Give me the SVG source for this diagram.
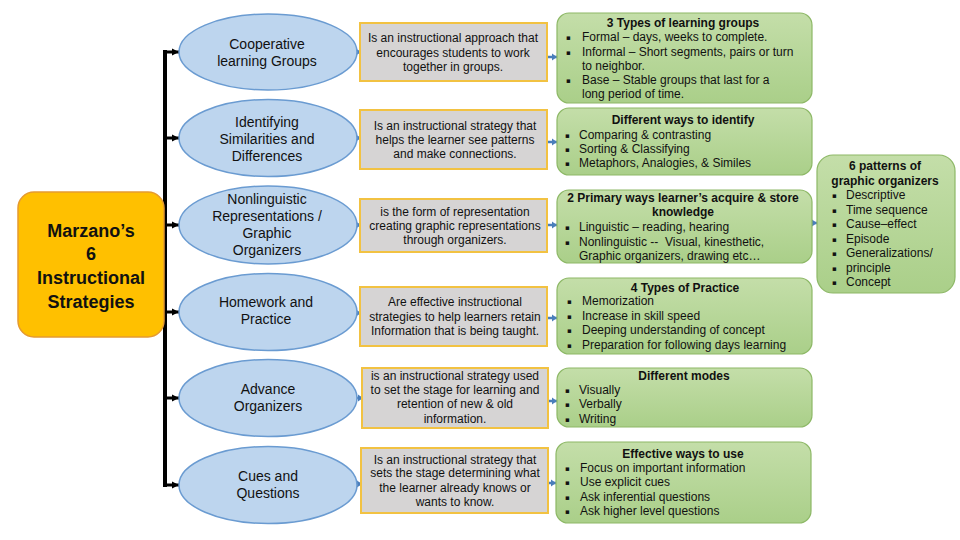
<svg xmlns="http://www.w3.org/2000/svg" width="960" height="540" viewBox="0 0 960 540">
<defs>
<style>
.t{font-family:"Liberation Sans",Arial,sans-serif;fill:#111;}
.ov{fill:#BDD5EE;stroke:#6A9BD1;stroke-width:1.5;}
.gb{fill:#D6D4D4;stroke:#F2C242;stroke-width:2;}
.gr{fill:url(#gg);stroke:#8DB866;stroke-width:1.2;}
.ot{font-size:14px;text-anchor:middle;}
.bt{font-size:12px;text-anchor:middle;}
.gt{font-size:12px;}
.hd{font-size:12px;font-weight:bold;text-anchor:middle;}
.bl{font-family:"DejaVu Sans",sans-serif;font-size:7px;fill:#111;}
.blk{stroke:#000;fill:none;}
.blu{stroke:#4A7EBB;stroke-width:2.5;fill:none;}
</style>
<linearGradient id="gg" x1="0" y1="0" x2="0" y2="1">
<stop offset="0" stop-color="#C4DEA9"/>
<stop offset="1" stop-color="#AACF89"/>
</linearGradient>
<marker id="ah" markerWidth="8" markerHeight="8" refX="7" refY="4" orient="auto" markerUnits="userSpaceOnUse">
<path d="M0,0.5 L7,4 L0,7.5 z" fill="#000"/>
</marker>
<marker id="bh" markerWidth="6" markerHeight="8" refX="5" refY="4" orient="auto" markerUnits="userSpaceOnUse">
<path d="M0,0.5 L5,4 L0,7.5 z" fill="#4A7EBB"/>
</marker>
</defs>
<rect width="960" height="540" fill="#fff"/>

<g id="connectors">
<path class="blk" d="M165 50 V487" stroke-width="4"/>
<path class="blk" d="M165 52 H179" stroke-width="3" marker-end="url(#ah)"/>
<path class="blk" d="M165 138 H179" stroke-width="3" marker-end="url(#ah)"/>
<path class="blk" d="M165 225 H179" stroke-width="3" marker-end="url(#ah)"/>
<path class="blk" d="M165 312 H179" stroke-width="3" marker-end="url(#ah)"/>
<path class="blk" d="M165 398 H179" stroke-width="3" marker-end="url(#ah)"/>
<path class="blk" d="M165 485 H179" stroke-width="3" marker-end="url(#ah)"/>
<path class="blu" d="M352 52 H361" marker-end="url(#bh)"/>
<path class="blu" d="M352 138 H361" marker-end="url(#bh)"/>
<path class="blu" d="M352 225 H361" marker-end="url(#bh)"/>
<path class="blu" d="M352 313 H361" marker-end="url(#bh)"/>
<path class="blu" d="M352 398 H363" marker-end="url(#bh)"/>
<path class="blu" d="M352 484 H362" marker-end="url(#bh)"/>
<path class="blu" d="M546 57 H557" marker-end="url(#bh)"/>
<path class="blu" d="M546 142 H557" marker-end="url(#bh)"/>
<path class="blu" d="M546 225 H557" marker-end="url(#bh)"/>
<path class="blu" d="M546 318 H557" marker-end="url(#bh)"/>
<path class="blu" d="M546 401 H557" marker-end="url(#bh)"/>
<path class="blu" d="M546 483 H556" marker-end="url(#bh)"/>
<path class="blu" d="M810 223 H817" marker-end="url(#bh)"/>
</g>

<g id="marzano">
<rect x="18" y="192" width="146" height="145" rx="16" fill="#FFC000" stroke="#E59A30" stroke-width="1.5"/>
<text class="t" font-size="18" font-weight="bold" text-anchor="middle"><tspan x="91" y="237">Marzano’s</tspan><tspan x="91" y="260">6</tspan><tspan x="91" y="284">Instructional</tspan><tspan x="91" y="308">Strategies</tspan></text>
</g>

<g id="oval1"><ellipse class="ov" cx="268" cy="52" rx="89" ry="38"/>
<text class="t ot"><tspan x="267" y="49">Cooperative</tspan><tspan x="267" y="66">learning Groups</tspan></text></g>
<g id="oval2"><ellipse class="ov" cx="268" cy="138" rx="89" ry="38.5"/>
<text class="t ot"><tspan x="267" y="127">Identifying</tspan><tspan x="267" y="144">Similarities and</tspan><tspan x="267" y="161">Differences</tspan></text></g>
<g id="oval3"><ellipse class="ov" cx="268" cy="225" rx="89" ry="39"/>
<text class="t ot"><tspan x="267" y="204">Nonlinguistic</tspan><tspan x="267" y="221">Representations /</tspan><tspan x="267" y="238">Graphic</tspan><tspan x="267" y="255">Organizers</tspan></text></g>
<g id="oval4"><ellipse class="ov" cx="268" cy="312" rx="89" ry="38.5"/>
<text class="t ot"><tspan x="266" y="307">Homework and</tspan><tspan x="266" y="324">Practice</tspan></text></g>
<g id="oval5"><ellipse class="ov" cx="268" cy="398" rx="89" ry="38.5"/>
<text class="t ot"><tspan x="268" y="394">Advance</tspan><tspan x="268" y="411">Organizers</tspan></text></g>
<g id="oval6"><ellipse class="ov" cx="268" cy="485" rx="89" ry="38.5"/>
<text class="t ot"><tspan x="268" y="481">Cues and</tspan><tspan x="268" y="498">Questions</tspan></text></g>

<g id="def1"><rect class="gb" x="360" y="23" width="187" height="58"/>
<text class="t bt"><tspan x="453" y="42">Is an instructional approach that</tspan><tspan x="453" y="57">encourages students to work</tspan><tspan x="453" y="71">together in groups.</tspan></text></g>
<g id="def2"><rect class="gb" x="360" y="110" width="187" height="59"/>
<text class="t bt"><tspan x="455" y="130">Is an instructional strategy that</tspan><tspan x="455" y="144">helps the learner see patterns</tspan><tspan x="455" y="158">and make connections.</tspan></text></g>
<g id="def3"><rect class="gb" x="360" y="199" width="187" height="53"/>
<text class="t bt"><tspan x="455" y="216">is the form of representation</tspan><tspan x="455" y="230">creating graphic representations</tspan><tspan x="455" y="244">through organizers.</tspan></text></g>
<g id="def4"><rect class="gb" x="360" y="287" width="187" height="59"/>
<text class="t bt"><tspan x="455" y="306">Are effective instructional</tspan><tspan x="455" y="321">strategies to help learners retain</tspan><tspan x="455" y="335">Information that is being taught.</tspan></text></g>
<g id="def5"><rect class="gb" x="362" y="368" width="186" height="60"/>
<text class="t bt"><tspan x="455" y="380">is an instructional strategy used</tspan><tspan x="455" y="394">to set the stage for learning and</tspan><tspan x="455" y="408">retention of new &amp; old</tspan><tspan x="455" y="423">information.</tspan></text></g>
<g id="def6"><rect class="gb" x="361" y="448" width="187" height="65"/>
<text class="t bt"><tspan x="455" y="464">Is an instructional strategy that</tspan><tspan x="455" y="477">sets the stage determining what</tspan><tspan x="455" y="492">the learner already knows or</tspan><tspan x="455" y="506">wants to know.</tspan></text></g>

<g id="detail1"><rect class="gr" x="557" y="13" width="255" height="90" rx="12"/>
<text class="t hd" x="683" y="27">3 Types of learning groups</text>
<text class="bl"><tspan x="566" y="40">▪</tspan><tspan x="566" y="55">▪</tspan><tspan x="566" y="83">▪</tspan></text>
<text class="t gt"><tspan x="582" y="41">Formal – days, weeks to complete.</tspan><tspan x="582" y="56">Informal – Short segments, pairs or turn</tspan><tspan x="582" y="70">to neighbor.</tspan><tspan x="582" y="84">Base – Stable groups that last for a</tspan><tspan x="582" y="98">long period of time.</tspan></text></g>
<g id="detail2"><rect class="gr" x="557" y="108" width="255" height="67" rx="12"/>
<text class="t hd" x="683" y="124">Different ways to identify</text>
<text class="bl"><tspan x="565" y="138">▪</tspan><tspan x="565" y="152">▪</tspan><tspan x="565" y="166">▪</tspan></text>
<text class="t gt"><tspan x="579" y="139">Comparing &amp; contrasting</tspan><tspan x="579" y="153">Sorting &amp; Classifying</tspan><tspan x="579" y="167">Metaphors, Analogies, &amp; Similes</tspan></text></g>
<g id="detail3"><rect class="gr" x="557" y="190" width="255" height="73" rx="12"/>
<text class="t hd"><tspan x="683" y="202">2 Primary ways learner’s acquire &amp; store</tspan><tspan x="683" y="216">knowledge</tspan></text>
<text class="bl"><tspan x="565" y="230">▪</tspan><tspan x="565" y="245">▪</tspan></text>
<text class="t gt" xml:space="preserve"><tspan x="579" y="231">Linguistic – reading, hearing</tspan><tspan x="579" y="246">Nonlinguistic --  Visual, kinesthetic,</tspan><tspan x="579" y="260">Graphic organizers, drawing etc…</tspan></text></g>
<g id="detail4"><rect class="gr" x="557" y="278" width="255" height="76" rx="12"/>
<text class="t hd" x="685" y="292">4 Types of Practice</text>
<text class="bl"><tspan x="567" y="304">▪</tspan><tspan x="567" y="319">▪</tspan><tspan x="567" y="333">▪</tspan><tspan x="567" y="348">▪</tspan></text>
<text class="t gt"><tspan x="582" y="305">Memorization</tspan><tspan x="582" y="320">Increase in skill speed</tspan><tspan x="582" y="334">Deeping understanding of concept</tspan><tspan x="582" y="349">Preparation for following days learning</tspan></text></g>
<g id="detail5"><rect class="gr" x="557" y="368" width="255" height="59" rx="12"/>
<text class="t hd" x="684" y="380">Different modes</text>
<text class="bl"><tspan x="565" y="393">▪</tspan><tspan x="565" y="407">▪</tspan><tspan x="565" y="422">▪</tspan></text>
<text class="t gt"><tspan x="579" y="394">Visually</tspan><tspan x="579" y="408">Verbally</tspan><tspan x="579" y="423">Writing</tspan></text></g>
<g id="detail6"><rect class="gr" x="556" y="442" width="255" height="81" rx="12"/>
<text class="t hd" x="683" y="458">Effective ways to use</text>
<text class="bl"><tspan x="565" y="471">▪</tspan><tspan x="565" y="485">▪</tspan><tspan x="565" y="500">▪</tspan><tspan x="565" y="514">▪</tspan></text>
<text class="t gt"><tspan x="580" y="472">Focus on important information</tspan><tspan x="580" y="486">Use explicit cues</tspan><tspan x="580" y="501">Ask inferential questions</tspan><tspan x="580" y="515">Ask higher level questions</tspan></text></g>

<g id="patterns"><rect class="gr" x="817" y="155" width="138" height="138" rx="16"/>
<text class="t hd"><tspan x="885" y="170">6 patterns of</tspan><tspan x="885" y="185">graphic organizers</tspan></text>
<text class="bl"><tspan x="832" y="198">▪</tspan><tspan x="832" y="213">▪</tspan><tspan x="832" y="227">▪</tspan><tspan x="832" y="242">▪</tspan><tspan x="832" y="256">▪</tspan><tspan x="832" y="271">▪</tspan><tspan x="832" y="285">▪</tspan></text>
<text class="t gt"><tspan x="846" y="199">Descriptive</tspan><tspan x="846" y="214">Time sequence</tspan><tspan x="846" y="228">Cause–effect</tspan><tspan x="846" y="243">Episode</tspan><tspan x="846" y="257">Generalizations/</tspan><tspan x="846" y="272">principle</tspan><tspan x="846" y="286">Concept</tspan></text></g>
</svg>
